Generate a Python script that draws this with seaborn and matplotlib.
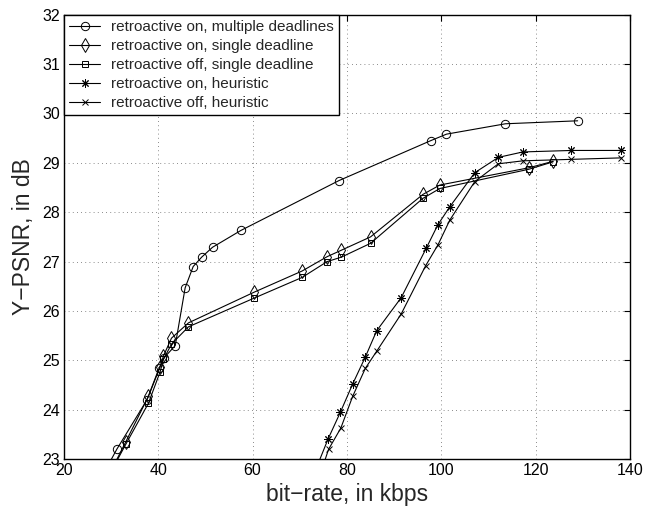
import matplotlib
matplotlib.use("Agg")
import matplotlib.pyplot as plt
import pandas as pd
import seaborn as sns

# values
multi_x = [29.5, 31.2, 37.6, 40.2, 41.2, 43.6, 45.7, 47.4, 49.2, 51.5, 57.5, 78.3, 97.8, 101.1, 113.6, 128.9]
multi_y = [22.9, 23.2, 24.2, 24.85, 25.05, 25.3, 26.47, 26.9, 27.09, 27.29, 27.63, 28.64, 29.45, 29.58, 29.79, 29.85]

single_x = [30.5, 33.1, 37.9, 40.4, 41.1, 42.8, 46.4, 60.3, 70.5, 75.8, 78.8, 85.0, 96.1, 99.7, 118.6, 123.7]
single_on_y = [22.86, 23.35, 24.27, 24.87, 25.09, 25.45, 25.76, 26.38, 26.81, 27.1, 27.23, 27.5, 28.36, 28.55, 28.9, 29.03]
single_off_y = [22.84, 23.3, 24.13, 24.77, 25.02, 25.33, 25.68, 26.26, 26.68, 27.0, 27.09, 27.37, 28.28, 28.48, 28.87, 29.02]

heur_on_x = [73.0, 76.0, 78.6, 81.2, 83.9, 86.3, 91.5, 96.8, 99.3, 101.8, 107.1, 112.1, 117.3, 127.6, 138.2]
heur_on_y = [22.7, 23.41, 23.95, 24.52, 25.07, 25.6, 26.27, 27.27, 27.75, 28.11, 28.8, 29.11, 29.22, 29.25, 29.25]

heur_off_x = [74.0, 76.1, 78.7, 81.2, 83.9, 86.4, 91.5, 96.7, 99.3, 101.8, 107.1, 112.1, 117.3, 127.6, 138.2]
heur_off_y = [22.6, 23.2, 23.63, 24.27, 24.84, 25.2, 25.94, 26.92, 27.34, 27.84, 28.62, 28.98, 29.04, 29.07, 29.1]

labels = [
    "retroactive on, multiple deadlines",
    "retroactive on, single deadline",
    "retroactive off, single deadline",
    "retroactive on, heuristic",
    "retroactive off, heuristic",
]

sns.set_style("white")
plt.rcParams["font.family"] = ["Liberation Sans", "DejaVu Sans"]

fig = plt.figure(figsize=(6.47, 5.14), dpi=100)
ax = fig.add_axes([0.0988, 0.1066, 0.8749, 0.865])

series = [
    (multi_x, multi_y, "o", 6),
    (single_x, single_on_y, "d", 7.5),
    (single_x, single_off_y, "s", 5),
    (heur_on_x, heur_on_y, (8, 2, 0), 6),
    (heur_off_x, heur_off_y, "x", 5),
]

for (xs, ys, mk, ms), lab in zip(series, labels):
    df = pd.DataFrame({"x": xs, "y": ys})
    sns.lineplot(data=df, x="x", y="y", ax=ax, color="k", linewidth=0.8,
                 marker=mk, markersize=ms, markerfacecolor="none",
                 markeredgecolor="k", markeredgewidth=0.7, label=lab,
                 estimator=None, sort=False)

ax.set_xlim(20, 140)
ax.set_ylim(23, 32)
ax.set_xticks(range(20, 141, 20))
ax.set_yticks(range(23, 33))
ax.grid(True, linestyle=(0, (1, 4)), color="0.4", linewidth=0.6)
ax.tick_params(direction="in", top=True, right=True, length=4, width=0.8,
               labelsize=11.5, colors="k", pad=3)
for s in ax.spines.values():
    s.set_color("k")
    s.set_linewidth(1.0)

ax.set_xlabel("bit\u2212rate, in kbps", fontsize=16.5, labelpad=3)
ax.set_ylabel("Y\u2212PSNR, in dB", fontsize=16.5, labelpad=5)

leg = ax.legend(loc="upper left", borderaxespad=0, fontsize=11,
                frameon=True, fancybox=False, framealpha=1,
                edgecolor="k", handlelength=2.0, labelspacing=0.33,
                borderpad=0.35, handletextpad=0.7)
leg.get_frame().set_linewidth(1.0)

fig.savefig("out.png", dpi=100)
